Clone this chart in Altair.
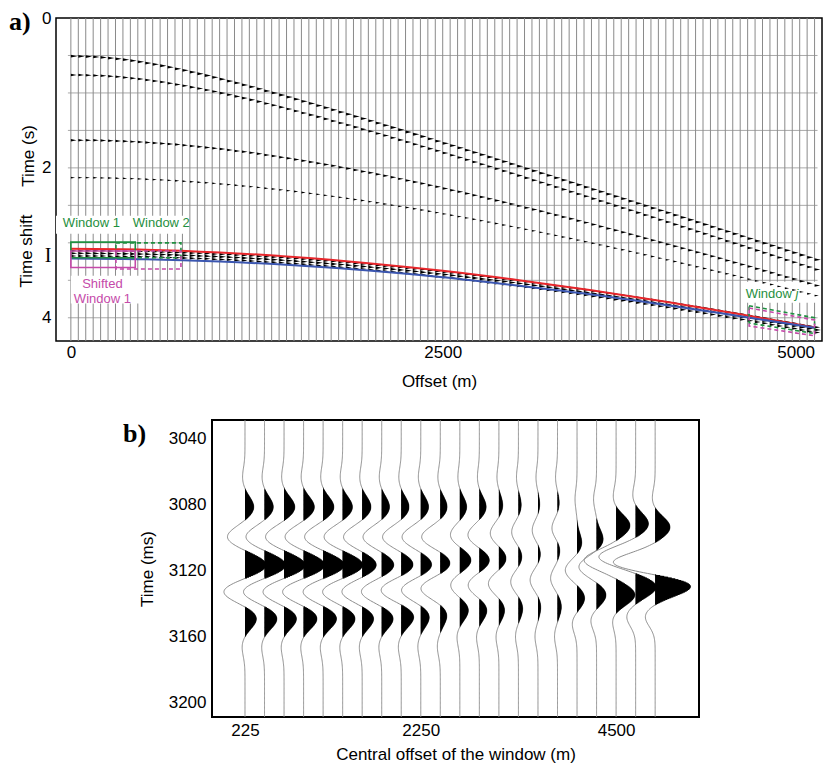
import numpy as np
import pandas as pd
import altair as alt

alt.data_transformers.disable_max_rows()

FONT = "Liberation Sans"
SERIF = "Liberation Serif"
GREEN = "#1f8f40"
MAGENTA = "#c54aa9"
RED = "#e8262b"
BLUE = "#3b56b0"

# ======================= Panel a data =======================
A_TRACE_OFFSETS = list(range(0, 5001, 50))          # one trace every 50 m
A_GRID_TIMES = [0.5, 1.0, 1.5, 2.0, 2.5, 3.0, 3.5, 4.0]
A_GRID_X = [-20, 5020]
A_X_TICKS = [0, 2500, 5000]
A_Y_TICKS = [0, 2, 4]

# reflection events read from the gather: zero-offset time (s), moveout velocity (m/s)
EVENT_T0 = [0.51, 0.76, 1.63, 2.13]
EVENT_V = [1570, 1530, 1575, 1650]
EVENT_AMP = [1.0, 0.85, 0.8, 0.45]
TARGET_T0 = 3.14
TARGET_V = 1830
TARGET_LOBE_SHIFT = [-0.035, 0.0, 0.035]
TARGET_LOBE_AMP = [0.8, 1.0, 0.8]

CURVE_OFFSETS = [0, 500, 1000, 1500, 2000, 2500, 3000, 3500, 4000, 4500, 5000]
RED_TIMES = [3.080, 3.092, 3.129, 3.189, 3.271, 3.373, 3.495, 3.633, 3.786, 3.952, 4.130]
BLUE_TIMES = [3.210, 3.220, 3.250, 3.300, 3.370, 3.460, 3.570, 3.690, 3.830, 3.980, 4.133]

WIN_NAME = ["Window 1", "Window 2", "Shifted Window 1", "Shifted Window 2"]
WIN_X1 = [0, 303, 0, 303]
WIN_X2 = [433, 740, 433, 740]
WIN_T1 = [2.99, 3.00, 3.11, 3.11]
WIN_T2 = [3.20, 3.20, 3.33, 3.35]

WJ_X = [4560, 5000, 5000, 4560, 4560]
WJ_GREEN_T = [3.84, 4.00, 4.21, 4.07, 3.84]
WJ_MAGENTA_T = [3.87, 4.03, 4.24, 4.11, 3.87]

WB_X1 = [-100, 0, 4520]
WB_X2 = [780, 470, 5030]
WB_T1 = [2.64, 3.44, 3.52]
WB_T2 = [2.88, 3.81, 3.80]

GREEN_TEXT = ["Window 1", "Window 2"]
GREEN_TEXT_X = [138, 608]
GREEN_TEXT_T = [2.733, 2.733]
MAG_TEXT = ["Shifted", "Window 1"]
MAG_TEXT_X = [212, 212]
MAG_TEXT_T = [3.547, 3.747]

# ======================= Panel b data =======================
B_CENTRAL_OFFSETS = [225, 450, 675, 900, 1125, 1350, 1575, 1800, 2025, 2250, 2475,
                     2700, 2925, 3150, 3375, 3600, 3825, 4050, 4275, 4500, 4725, 4950]
B_X_TICKS = [225, 2250, 4500]
B_Y_TICKS = [3040, 3080, 3120, 3160, 3200]

# lobes of each windowed trace: time (ms) and amplitude
L0_T = [3064, 3064, 3064, 3064, 3064, 3064, 3064, 3064, 3064, 3064, 3064, 3064, 3064, 3064, 3064, 3064, 3064, 3077, 3077, 3076, 3075, 3077]
L0_A = [-2.5, -2.5, -2.5, -2.5, -2.5, -2.5, -2.5, -2.5, -2.5, -2.5, -2.5, -2, -2, -2, -2, -2, -2, -2, -3, -3, -3, -3]
P1_T = [3082, 3082, 3082, 3082, 3082, 3082, 3082, 3082, 3082, 3082, 3082, 3082, 3082, 3081, 3081, 3081, 3080, 3104, 3102, 3093, 3092, 3094]
P1_A = [9, 9, 11, 11, 11, 10, 9, 8, 8, 8, 7, 7, 7, 4, 3, 2, 2, 5, 7, 14, 13, 15]
N1_T = [3100, 3100, 3100, 3100, 3100, 3100, 3100, 3100, 3100, 3100, 3100, 3099, 3099, 3098, 3097, 3096, 3095, 3120, 3118, 3114, 3112, 3116]
N1_A = [-18, -19, -19, -19, -19, -19, -19, -19, -19, -19, -19, -10, -12, -9, -7, -6, -6, -12, -18, -32, -37, -45]
P2_T = [3117, 3117, 3117, 3117, 3117, 3117, 3117, 3117, 3117, 3117, 3116, 3114, 3114, 3113, 3112, 3110, 3107, 3137, 3135, 3135, 3130, 3129]
P2_A = [22, 22, 22, 22, 22, 21, 15, 13, 13, 12, 11, 12, 11, 8, 4, 3, 3, 8, 10, 19, 21, 39]
N2_T = [3133, 3133, 3133, 3133, 3133, 3133, 3133, 3133, 3132, 3132, 3131, 3129, 3129, 3128, 3127, 3126, 3125, 3152, 3150, 3150, 3148, 3148]
N2_A = [-22, -22, -22, -22, -21, -21, -21, -21, -21, -20, -20, -10, -12, -11, -8, -8, -7, -5, -6, -4, -9, -10]
P3_T = [3149, 3149, 3149, 3149, 3149, 3149, 3149, 3149, 3148, 3148, 3147, 3144, 3144, 3144, 3143, 3142, 3142, 3168, 3166, 3166, 3165, 3165]
P3_A = [12, 13, 13, 14, 14, 13, 12, 12, 13, 9, 7, 9, 8, 6, 4.5, 3, 4, 0, 0, 0, 0, 0]
L6_T = [3166, 3166, 3166, 3166, 3166, 3166, 3166, 3166, 3166, 3166, 3166, 3160, 3160, 3160, 3160, 3160, 3160, 3182, 3182, 3182, 3182, 3182]
L6_A = [-3, -3, -3, -3, -3, -3, -3, -3, -3, -3, -3, -3, -3, -3, -3, -3, -3, 0, 0, 0, 0, 0]
WAVELET_SIGMA = 6.0      # ms
GAIN_B = 11.52           # offset metres per amplitude unit
B_T_MIN, B_T_MAX = 3029, 3209

# ======================= build frames =======================
df_tr = pd.DataFrame({"x": A_TRACE_OFFSETS})
df_grid = pd.DataFrame({"x1": A_GRID_X[0], "x2": A_GRID_X[1], "t": A_GRID_TIMES})

rows = []
for t0, v, a in zip(EVENT_T0, EVENT_V, EVENT_AMP):
    for off in A_TRACE_OFFSETS:
        t = float(np.sqrt(t0 ** 2 + (off / v) ** 2))
        if t < 4.3:
            rows.append({"x": off, "t": t, "amp": a})
for sh, a in zip(TARGET_LOBE_SHIFT, TARGET_LOBE_AMP):
    for off in A_TRACE_OFFSETS:
        t = float(np.sqrt(TARGET_T0 ** 2 + (off / TARGET_V) ** 2)) + sh
        if t < 4.3:
            rows.append({"x": off, "t": t, "amp": a})
df_wedge = pd.DataFrame(rows)

df_red = pd.DataFrame({"x": CURVE_OFFSETS, "t": RED_TIMES})
df_blue = pd.DataFrame({"x": CURVE_OFFSETS, "t": BLUE_TIMES})
df_win = pd.DataFrame({"name": WIN_NAME, "x1": WIN_X1, "x2": WIN_X2, "t1": WIN_T1, "t2": WIN_T2})
df_wj_g = pd.DataFrame({"x": WJ_X, "t": WJ_GREEN_T, "k": list(range(len(WJ_X)))})
df_wj_m = pd.DataFrame({"x": WJ_X, "t": WJ_MAGENTA_T, "k": list(range(len(WJ_X)))})
df_wb = pd.DataFrame({"x1": WB_X1, "x2": WB_X2, "t1": WB_T1, "t2": WB_T2})
df_gtxt = pd.DataFrame({"label": GREEN_TEXT, "x": GREEN_TEXT_X, "t": GREEN_TEXT_T})
df_mtxt = pd.DataFrame({"label": MAG_TEXT, "x": MAG_TEXT_X, "t": MAG_TEXT_T})

tt = np.arange(B_T_MIN, B_T_MAX + 0.25, 0.5)
brows = []
for i, off in enumerate(B_CENTRAL_OFFSETS):
    lobes = [(L0_T[i], L0_A[i]), (P1_T[i], P1_A[i]), (N1_T[i], N1_A[i]), (P2_T[i], P2_A[i]),
             (N2_T[i], N2_A[i]), (P3_T[i], P3_A[i]), (L6_T[i], L6_A[i])]
    w = np.zeros_like(tt)
    for tc, a in lobes:
        w += a * np.exp(-0.5 * ((tt - tc) / WAVELET_SIGMA) ** 2)
    for t, wv in zip(tt, w):
        brows.append({"trace": i, "t": float(t), "base": off,
                      "xw": off + GAIN_B * wv, "xpos": off + GAIN_B * max(wv, 0.0)})
df_b = pd.DataFrame(brows)
df_bfill = df_b[df_b["xpos"] - df_b["base"] > 1.0]

# ======================= panel a =======================
XS_A = alt.Scale(domain=[-100, 5050], nice=False, zero=False)
YS_A = alt.Scale(domain=[0, 4.31], nice=False, zero=False, reverse=True)
AXX_A = alt.Axis(values=A_X_TICKS, format="d", title="Offset (m)", grid=False, ticks=False,
                 tickSize=0, domain=False, labelFont=FONT, labelFontSize=17, labelColor="black",
                 titleFont=FONT, titleFontSize=17, titleFontWeight="normal", titleColor="black",
                 labelPadding=3, titlePadding=13, labelFlush=10)
AXY_A = alt.Axis(values=A_Y_TICKS, format="d", title=None, grid=False, ticks=False, tickSize=0,
                 domain=False, labelFont=FONT, labelFontSize=17, labelColor="black",
                 labelPadding=5, labelFlush=False)


def XA(f):
    return alt.X(f + ":Q", scale=XS_A, axis=AXX_A)


def YA(f):
    return alt.Y(f + ":Q", scale=YS_A, axis=AXY_A)


grid = alt.Chart(df_grid).mark_rule(color="#a9a9a9", strokeWidth=1).encode(
    x=XA("x1"), x2="x2", y=YA("t"))
traces = alt.Chart(df_tr).mark_rule(color="#8a8a8a", strokeWidth=1).encode(x=XA("x"))
white = alt.Chart(df_wb).mark_rect(color="white").encode(
    x=XA("x1"), x2="x2", y=YA("t1"), y2="t2")
wedges = alt.Chart(df_wedge).mark_point(
    shape="M0,-0.22L1,0L0,0.22Z", filled=True, color="black", opacity=1, strokeWidth=0
).encode(x=XA("x"), y=YA("t"),
         size=alt.Size("amp:Q", scale=alt.Scale(domain=[0, 1], range=[0, 160]), legend=None))
red = alt.Chart(df_red).mark_line(color=RED, strokeWidth=2, interpolate="monotone").encode(
    x=XA("x"), y=YA("t"))
blue = alt.Chart(df_blue).mark_line(color=BLUE, strokeWidth=2, interpolate="monotone").encode(
    x=XA("x"), y=YA("t"))


def win_layer(name, color, dashed):
    kw = dict(fillOpacity=0, stroke=color, strokeWidth=1.6)
    if dashed:
        kw["strokeDash"] = [4, 3]
    return alt.Chart(df_win[df_win["name"] == name]).mark_rect(**kw).encode(
        x=XA("x1"), x2="x2", y=YA("t1"), y2="t2")


w1 = win_layer("Window 1", GREEN, False)
w2 = win_layer("Window 2", GREEN, True)
sw1 = win_layer("Shifted Window 1", MAGENTA, False)
sw2 = win_layer("Shifted Window 2", MAGENTA, True)
wjg = alt.Chart(df_wj_g).mark_line(color=GREEN, strokeDash=[4, 3], strokeWidth=1.6).encode(
    x=XA("x"), y=YA("t"), order="k:Q")
wjm = alt.Chart(df_wj_m).mark_line(color=MAGENTA, strokeDash=[4, 3], strokeWidth=1.6).encode(
    x=XA("x"), y=YA("t"), order="k:Q")

gtxt = alt.Chart(df_gtxt).mark_text(font=FONT, fontSize=13, color=GREEN).encode(
    x=XA("x"), y=YA("t"), text="label:N")
mtxt = alt.Chart(df_mtxt).mark_text(font=FONT, fontSize=13, color=MAGENTA).encode(
    x=XA("x"), y=YA("t"), text="label:N")
wj_txt = alt.Chart(pd.DataFrame({"label": ["Window"], "x": [4537], "t": [3.68]})).mark_text(
    font=FONT, fontSize=13, color=GREEN, align="left").encode(x=XA("x"), y=YA("t"), text="label:N")
wj_j = alt.Chart(pd.DataFrame({"label": ["j"], "x": [4872], "t": [3.68]})).mark_text(
    font=FONT, fontSize=13, color=GREEN, align="left", fontStyle="italic").encode(
    x=XA("x"), y=YA("t"), text="label:N")


def px_text(label, x, y, **kw):
    return alt.Chart(pd.DataFrame({"label": [label]})).mark_text(**kw).encode(
        x=alt.value(x), y=alt.value(y), text="label:N")


a_lab = px_text("a)", -47, -9, font=SERIF, fontSize=26, fontWeight="bold", align="left",
                baseline="top", color="black")
t_lab = px_text("Time (s)", -27, 138, font=FONT, fontSize=17, angle=270, baseline="middle",
                color="black")
ts_lab = px_text("Time shift", -29, 233, font=FONT, fontSize=17, angle=270, baseline="middle",
                 color="black")
i_lab = px_text("I", -8, 238, font=SERIF, fontSize=20, baseline="middle", color="black")

panel_a = alt.layer(grid, traces, white, wedges, red, blue, w1, w2, sw1, sw2, wjg, wjm,
                    gtxt, mtxt, wj_txt, wj_j, a_lab, t_lab, ts_lab, i_lab).properties(
    width=766, height=323, view=alt.ViewBackground(stroke="black", strokeWidth=1.5))

# ======================= panel b =======================
XS_B = alt.Scale(domain=[-155, 5455], nice=False, zero=False)
YS_B = alt.Scale(domain=[B_T_MIN, B_T_MAX], nice=False, zero=False, reverse=True)
AXX_B = alt.Axis(values=B_X_TICKS, format="d", title="Central offset of the window (m)",
                 grid=False, ticks=False, tickSize=0, domain=False, labelFont=FONT,
                 labelFontSize=17, labelColor="black", titleFont=FONT, titleFontSize=17,
                 titleFontWeight="normal", titleColor="black", labelPadding=5, titlePadding=8,
                 labelFlush=False)
AXY_B = alt.Axis(values=B_Y_TICKS, format="d", title="Time (ms)", grid=False, ticks=False,
                 tickSize=0, domain=False, labelFont=FONT, labelFontSize=17, labelColor="black",
                 titleFont=FONT, titleFontSize=17, titleFontWeight="normal", titleColor="black",
                 labelPadding=6, titlePadding=12, labelFlush=False)

b_lines = alt.Chart(df_b).mark_line(color="#8c8c8c", strokeWidth=1).encode(
    x=alt.X("xw:Q", scale=XS_B, axis=AXX_B), y=alt.Y("t:Q", scale=YS_B, axis=AXY_B),
    detail="trace:N", order="t:Q")
# positive lobes filled black (dense horizontal strokes from the trace baseline)
b_fill = alt.Chart(df_bfill).mark_rule(color="black", strokeWidth=1.8).encode(
    x=alt.X("base:Q", scale=XS_B, axis=AXX_B), x2="xpos:Q",
    y=alt.Y("t:Q", scale=YS_B, axis=AXY_B))
b_lab = px_text("b)", -89, 22, font=SERIF, fontSize=26, fontWeight="bold", align="left",
                baseline="alphabetic", color="black")

panel_b = alt.layer(b_lines, b_fill, b_lab).properties(
    width=487, height=297, view=alt.ViewBackground(stroke="black", strokeWidth=2))

spacer = alt.Chart(pd.DataFrame({"v": [0.5]})).mark_point(opacity=0, size=0).encode(
    x=alt.X("v:Q", axis=None, scale=alt.Scale(domain=[0, 1])),
    y=alt.Y("v:Q", axis=None, scale=alt.Scale(domain=[0, 1]))).properties(
    width=65, height=10, view=alt.ViewBackground(stroke="transparent"))

chart = alt.vconcat(panel_a, alt.hconcat(spacer, panel_b, spacing=0), spacing=27).properties(
    padding={"left": 0, "top": 0, "right": 0, "bottom": 0})

chart.save("out.html", embed_options={"renderer": "svg", "actions": False})
